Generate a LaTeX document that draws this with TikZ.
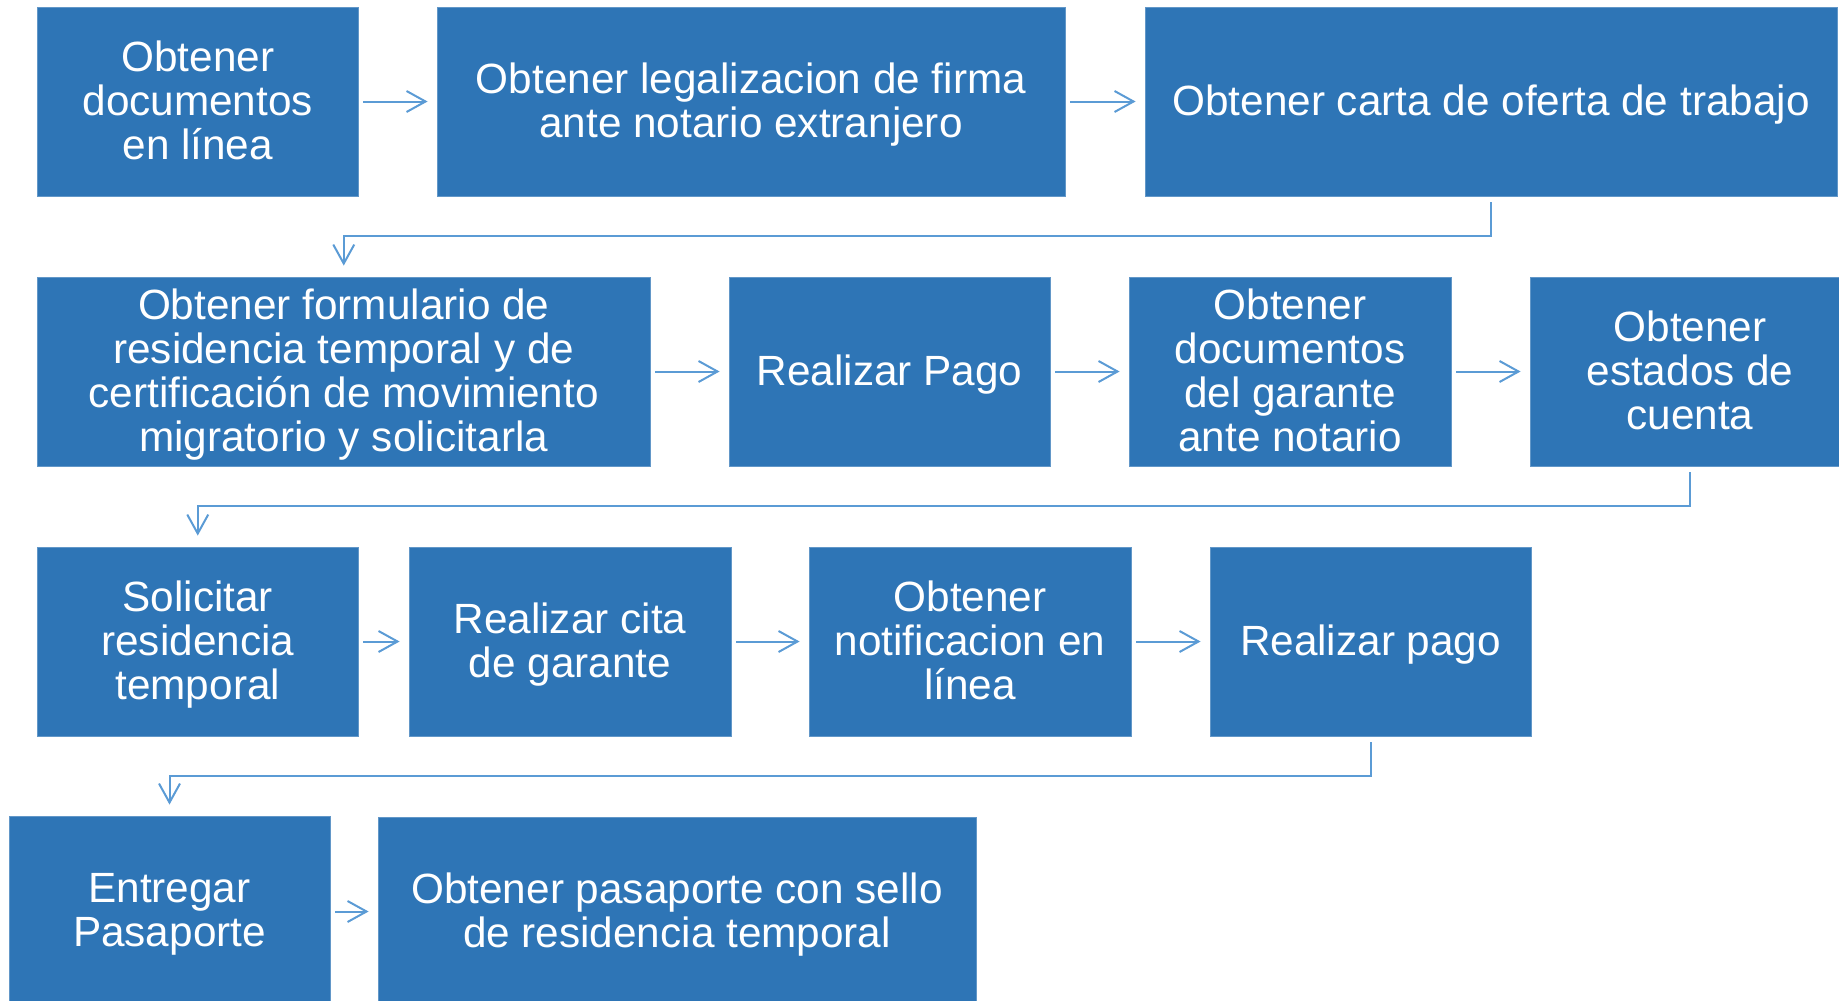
\documentclass[tikz,border=0pt]{standalone}
\usepackage{fontspec}
\setmainfont{Liberation Sans}
\usetikzlibrary{arrows.meta}
\definecolor{boxblue}{RGB}{46,117,182}
\definecolor{arrowblue}{RGB}{91,155,213}
\newcommand\linestrut{\vrule height 38pt depth 10pt width 0pt\relax}
\newcommand\boxfont{\fontsize{42.3}{44.2}\selectfont\lineskiplimit=-1000pt\relax}
\tikzset{
  stepbox/.style={rectangle, fill=boxblue, draw=boxblue!75!white, line width=0.8pt,
    minimum height=189pt, inner sep=0pt, align=center, text=white,
    font=\boxfont, execute at end node=\linestrut},
  flowarr/.style={draw=arrowblue, line width=2pt,
    -{Straight Barb[length=19pt,width=21pt,line width=2pt]}},
  harr/.style={flowarr, shorten <=5pt, shorten >=9pt},
  earr/.style={flowarr, shorten <=6pt, shorten >=11pt}
}
\begin{document}
\begin{tikzpicture}[x=1pt,y=-1pt]
\useasboundingbox (0,0) rectangle (1839,1001);
\clip (0,0) rectangle (1839,1001);
% row 1
\node[stepbox, minimum width=320.5pt] (A) at (197.75,101.5) {\linestrut Obtener\\documentos\\en línea};
\node[stepbox, minimum width=628pt] (B) at (751,101.5) {\linestrut Obtener legalizacion de firma\\ante notario extranjero};
\node[stepbox, minimum width=692pt] (C) at (1491,101.5) {\linestrut Obtener carta de oferta de trabajo};
% row 2
\node[stepbox, minimum width=612.5pt] (D) at (343.75,371.5) {\linestrut Obtener formulario de\\residencia temporal y de\\certificación de movimiento\\migratorio y solicitarla};
\node[stepbox, minimum width=321pt] (E) at (889.5,371.5) {\linestrut Realizar Pago};
\node[stepbox, minimum width=322pt] (F) at (1290,371.5) {\linestrut Obtener\\documentos\\del garante\\ante notario};
\node[stepbox, minimum width=320pt] (G) at (1690,371.5) {\linestrut Obtener\\estados de\\cuenta};
% row 3
\node[stepbox, minimum width=320.5pt] (H) at (197.75,641.5) {\linestrut Solicitar\\residencia\\temporal};
\node[stepbox, minimum width=322pt] (I) at (570,641.5) {\linestrut Realizar cita\\de garante};
\node[stepbox, minimum width=322pt] (J) at (970,641.5) {\linestrut Obtener\\notificacion en\\línea};
\node[stepbox, minimum width=321pt] (K) at (1370.5,641.5) {\linestrut Realizar pago};
% row 4
\node[stepbox, minimum width=321pt] (L) at (169.5,910.5) {\linestrut Entregar\\Pasaporte};
\node[stepbox, minimum width=598pt] (M) at (677,911.5) {\linestrut Obtener pasaporte con sello\\de residencia temporal};
% horizontal connectors
\draw[harr] (A) -- (B);
\draw[harr] (B) -- (C);
\draw[harr] (D) -- (E);
\draw[harr] (E) -- (F);
\draw[harr] (F) -- (G);
\draw[harr] (H) -- (I);
\draw[harr] (I) -- (J);
\draw[harr] (J) -- (K);
\draw[harr] (L.east |- M.west) -- (M.west);
% elbow connectors
\draw[earr] (C.south) -- ++(0,40) -| (D.north);
\draw[earr] (G.south) -- ++(0,39.5) -| (H.north);
\draw[earr] (K.south) -- ++(0,40) -| (L.north);
\end{tikzpicture}
\end{document}
